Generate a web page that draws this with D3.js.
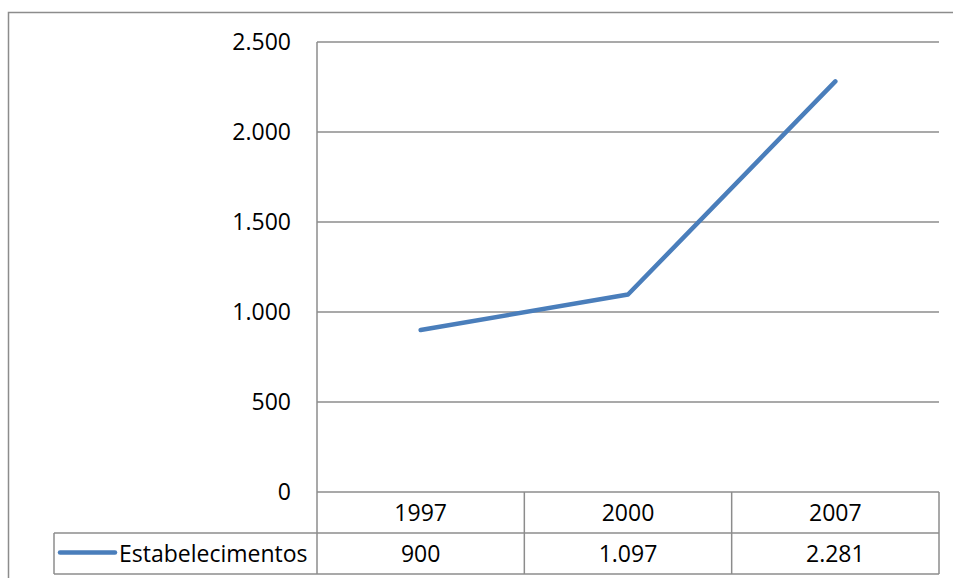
<!DOCTYPE html>
<html>
<head>
<meta charset="utf-8">
<script src="https://cdn.jsdelivr.net/npm/d3@7"></script>
<style>
  body { margin: 0; background: #fff; }
  text { font-family: "Open Sans", "Noto Sans", sans-serif; fill: #000; }
</style>
</head>
<body>
<svg width="953" height="578"></svg>
<script>
// data
const years = ['1997', '2000', '2007'];
const values = [900, 1097, 2281];
const seriesName = 'Estabelecimentos';
const yTicks = [0, 500, 1000, 1500, 2000, 2500];

const svg = d3.select('svg');
const gridColor = '#8c8c8c';
const lineColor = '#4a7ebb';
const fontSize = '23px';

const plotLeft = 317, plotRight = 939, plotTop = 42, plotBottom = 492;
const rowH = 41;
const fmt = d => d3.format(',')(d).replace(/,/g, '.');

// outer frame
svg.append('rect')
    .attr('x', 8.5).attr('y', 12.5)
    .attr('width', 960).attr('height', 600)
    .attr('fill', 'none')
    .attr('stroke', gridColor)
    .attr('stroke-width', 1.5);

const x = d3.scaleBand().domain(years).range([plotLeft, plotRight]);
const y = d3.scaleLinear().domain([0, 2500]).range([plotBottom, plotTop]);

// gridlines
svg.append('g').selectAll('line')
    .data(yTicks)
    .join('line')
    .attr('x1', plotLeft).attr('x2', plotRight)
    .attr('y1', d => y(d)).attr('y2', d => y(d))
    .attr('stroke', gridColor)
    .attr('stroke-width', 1.5);

// y tick labels
svg.append('g').selectAll('text')
    .data(yTicks)
    .join('text')
    .attr('x', 291)
    .attr('y', d => y(d))
    .attr('dy', '0.36em')
    .attr('text-anchor', 'end')
    .style('font-size', fontSize)
    .text(fmt);

// table lines
const tbl = svg.append('g').attr('stroke', gridColor).attr('stroke-width', 1.5);
tbl.append('line').attr('x1', plotLeft).attr('x2', plotLeft).attr('y1', plotTop).attr('y2', plotBottom + 2 * rowH);
years.forEach(d => {
  tbl.append('line')
      .attr('x1', x(d) + x.bandwidth()).attr('x2', x(d) + x.bandwidth())
      .attr('y1', plotBottom).attr('y2', plotBottom + 2 * rowH);
});
tbl.append('line').attr('x1', 54).attr('x2', plotRight).attr('y1', plotBottom + rowH).attr('y2', plotBottom + rowH);
tbl.append('line').attr('x1', 54).attr('x2', plotRight).attr('y1', plotBottom + 2 * rowH).attr('y2', plotBottom + 2 * rowH);
tbl.append('line').attr('x1', 54).attr('x2', 54).attr('y1', plotBottom + rowH).attr('y2', plotBottom + 2 * rowH);

// year labels
svg.append('g').selectAll('text')
    .data(years)
    .join('text')
    .attr('x', d => x(d) + x.bandwidth() / 2)
    .attr('y', plotBottom + rowH / 2)
    .attr('dy', '0.36em')
    .attr('text-anchor', 'middle')
    .style('font-size', fontSize)
    .text(d => d);

// value labels
svg.append('g').selectAll('text')
    .data(values)
    .join('text')
    .attr('x', (d, i) => x(years[i]) + x.bandwidth() / 2)
    .attr('y', plotBottom + rowH * 1.5)
    .attr('dy', '0.36em')
    .attr('text-anchor', 'middle')
    .style('font-size', fontSize)
    .text(fmt);

// legend key
const ly = plotBottom + rowH * 1.5 - 1;
svg.append('line')
    .attr('x1', 60).attr('x2', 115)
    .attr('y1', ly).attr('y2', ly)
    .attr('stroke', lineColor)
    .attr('stroke-width', 4.5)
    .attr('stroke-linecap', 'round');
svg.append('text')
    .attr('x', 119)
    .attr('y', plotBottom + rowH * 1.5)
    .attr('dy', '0.36em')
    .style('font-size', fontSize)
    .text(seriesName);

// series line
const line = d3.line()
    .x((d, i) => x(years[i]) + x.bandwidth() / 2)
    .y(d => y(d));

svg.append('path')
    .datum(values)
    .attr('d', line)
    .attr('fill', 'none')
    .attr('stroke', lineColor)
    .attr('stroke-width', 4.5)
    .attr('stroke-linecap', 'round')
    .attr('stroke-linejoin', 'round');
</script>
</body>
</html>
